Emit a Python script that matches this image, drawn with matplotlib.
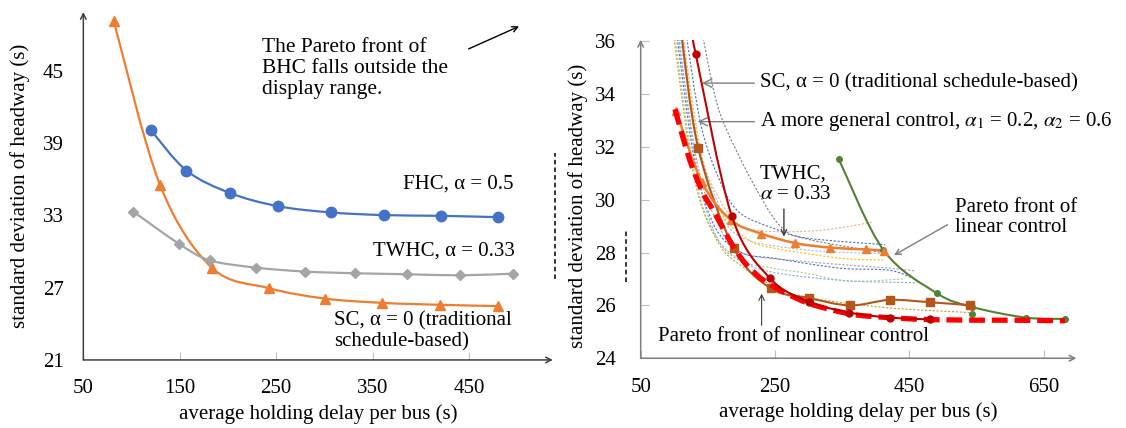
import numpy as np
import matplotlib
matplotlib.use("Agg")
import matplotlib.pyplot as plt
from matplotlib.path import Path
from matplotlib.patches import PathPatch

plt.rcParams["font.family"] = ["Liberation Serif", "DejaVu Serif"]
plt.rcParams["mathtext.fontset"] = "stix"

# ---- left panel data ----
fhc_x = [120, 157, 202, 252, 307, 362, 421, 480]
fhc_y = [40.09, 36.73, 34.87, 33.77, 33.25, 33.03, 32.97, 32.86]
twhc_x = [102, 149, 181, 229, 280, 332, 386, 441, 496]
twhc_y = [33.31, 30.66, 29.28, 28.67, 28.34, 28.20, 28.12, 28.03, 28.17]
sc_x = [81.5, 129.4, 183.2, 242.6, 300.5, 360.2, 420, 480.5]
sc_y = [49.17, 35.57, 28.67, 26.96, 26.10, 25.74, 25.58, 25.47]

# ---- right panel data ----
nl_x = [101, 123, 143, 158, 188, 208, 232, 257, 282, 307, 357, 396, 484, 602, 682]
nl_y = [33.43, 31.51, 30.25, 29.60, 28.23, 27.53, 26.97, 26.59, 26.27, 26.02, 25.70, 25.58, 25.46, 25.44, 25.42]
rsc_x = [126, 131.9, 185.5, 242.5, 301, 360.6, 421, 481]
rsc_y = [36.40, 35.53, 29.40, 27.03, 26.14, 25.73, 25.54, 25.47]
gen_x = [110, 135.8, 188.5, 243.5, 301, 362, 421, 481, 541]
gen_y = [36.40, 31.95, 28.18, 26.65, 26.28, 26.00, 26.21, 26.12, 26.01]
tw_x = [103, 140.8, 184, 229.5, 280.5, 332.5, 386, 412]
tw_y = [33.35, 30.69, 29.24, 28.72, 28.36, 28.19, 28.12, 28.08]
lin_x = [345.2, 411.5, 490.6, 543.8, 623.2, 682]
lin_y = [31.53, 28.10, 26.47, 25.94, 25.54, 25.49]
extra_x = [544]
extra_y = [25.67]

# thin dotted linear-control variants: (colour, x, y)
dotted = [
    ("#7F7F7F", [141, 160, 178, 218, 258, 300, 416], [36.4, 34.0, 32.65, 30.6, 29.0, 28.5, 27.98]),
    ("#4472C4", [117, 140, 170, 198, 248, 297, 414], [36.4, 32.8, 30.6, 29.5, 28.92, 28.55, 28.30]),
    ("#F4B183", [112, 140, 170, 200, 248, 320, 395], [36.4, 31.8, 29.9, 29.0, 28.8, 28.85, 29.15]),
    ("#9DC3E6", [107, 135, 165, 198, 297, 420], [36.4, 32.2, 29.9, 28.6, 28.1, 27.95]),
    ("#FFC000", [110, 140, 170, 210, 248, 347, 411], [36.4, 31.5, 29.5, 28.5, 28.17, 27.79, 27.72]),
    ("#A5A5A5", [105, 135, 165, 200, 297, 421, 460], [36.4, 31.3, 29.1, 28.0, 27.66, 27.41, 27.30]),
    ("#4472C4", [103, 130, 160, 200, 248, 347, 421, 462], [36.4, 31.5, 29.0, 28.0, 27.79, 27.41, 27.33, 26.95]),
    ("#A9D18E", [100, 130, 160, 200, 248, 297, 360, 440], [36.4, 31.0, 28.7, 27.7, 27.41, 27.22, 26.92, 27.00]),
    ("#8FAADC", [105, 135, 165, 205, 260, 360, 462], [36.4, 31.0, 28.5, 27.6, 27.2, 26.93, 26.86]),
    ("#C9A227", [98, 130, 165, 200, 250, 300, 414, 540], [36.4, 30.8, 28.4, 27.5, 26.7, 26.3, 25.92, 25.73]),
]


def smooth_path(x, y):
    # Catmull-Rom style smoothing, like Excel's smoothed lines
    x = np.asarray(x, float)
    y = np.asarray(y, float)
    n = len(x)
    verts = [(x[0], y[0])]
    codes = [Path.MOVETO]
    for i in range(n - 1):
        i0 = max(i - 1, 0)
        i3 = min(i + 2, n - 1)
        c1 = (x[i] + (x[i + 1] - x[i0]) / 6, y[i] + (y[i + 1] - y[i0]) / 6)
        c2 = (x[i + 1] - (x[i3] - x[i]) / 6, y[i + 1] - (y[i3] - y[i]) / 6)
        verts += [c1, c2, (x[i + 1], y[i + 1])]
        codes += [Path.CURVE4] * 3
    return Path(verts, codes)


def smooth_line(ax, x, y, color, lw, ls="-", marker=None, ms=5, zorder=2):
    ax.add_patch(PathPatch(smooth_path(x, y), fill=False, edgecolor=color, lw=lw,
                           linestyle=ls, capstyle="butt", zorder=zorder))
    if marker:
        ax.plot(x, y, linestyle="none", marker=marker, ms=ms, color=color, zorder=zorder + 0.1)


def arrow_axes(ax, color):
    for s in ax.spines.values():
        s.set_visible(False)
    ax.annotate("", xy=(1, 0), xytext=(0, 0), xycoords="axes fraction",
                arrowprops=dict(arrowstyle="->", color=color, lw=1.1, shrinkA=0, shrinkB=0))
    ax.annotate("", xy=(0, 1), xytext=(0, 0), xycoords="axes fraction",
                arrowprops=dict(arrowstyle="->", color=color, lw=1.1, shrinkA=0, shrinkB=0))


fig = plt.figure(figsize=(11.26, 4.28), dpi=100)
ax1 = fig.add_axes([0.074, 0.159, 0.417, 0.813])
ax2 = fig.add_axes([0.569, 0.163, 0.387, 0.744])

FS = 15

# --- left panel ---
smooth_line(ax1, sc_x, sc_y, "#ED7D31", 1.6, marker="^", ms=7.5)
smooth_line(ax1, twhc_x, twhc_y, "#A5A5A5", 1.6, marker="D", ms=5)
smooth_line(ax1, fhc_x, fhc_y, "#4472C4", 1.6, marker="o", ms=7.5)
ax1.set_xlim(50, 537)
ax1.set_ylim(21, 49.9)
ax1.set_xticks([50, 150, 250, 350, 450])
ax1.set_yticks([21, 27, 33, 39, 45])
ax1.tick_params(axis="x", direction="in", length=6, color="#BFBFBF", labelsize=FS, pad=14)
ax1.tick_params(axis="y", length=0, labelsize=FS, pad=14)
arrow_axes(ax1, "#404040")
ax1.set_xlabel("average holding delay per bus (s)", fontsize=FS, labelpad=4)
ax1.set_ylabel("standard deviation of headway (s)", fontsize=FS)
ax1.yaxis.set_label_coords(-0.113, 0.5)

ax1.text(235.6, 47.75, "The Pareto front of\nBHC falls outside the\ndisplay range.",
         fontsize=15.5, va="top", ha="left", linespacing=1.15)
ax1.annotate("", xy=(504.6, 48.8), xytext=(447, 46.74),
             arrowprops=dict(arrowstyle="->", color="black", lw=1))
ax1.text(496, 35.6, "FHC, α = 0.5", fontsize=FS, ha="right", va="center")
ax1.text(498, 30.05, "TWHC, α = 0.33", fontsize=FS, ha="right", va="center")
ax1.text(309.8, 23.35, "SC, α = 0 (traditional\nschedule-based)", fontsize=FS,
         ha="left", va="center", linespacing=1.1)
ax1.plot([539.5, 539.5], [27.75, 38.2], color="black", lw=1.1, ls=(0, (3, 2)), clip_on=False)

# --- right panel ---
for col, dx, dy in dotted:
    smooth_line(ax2, dx, dy, col, 0.8, ls=(0, (2, 1.5)), zorder=1.5)
smooth_line(ax2, lin_x, lin_y, "#548235", 1.5, marker="o", ms=4)
ax2.plot(extra_x, extra_y, linestyle="none", marker="o", ms=4, color="#548235")
smooth_line(ax2, gen_x, gen_y, "#B4561A", 1.5, marker="s", ms=5.5)
smooth_line(ax2, tw_x, tw_y, "#ED7D31", 1.8, marker="^", ms=5.5)
smooth_line(ax2, nl_x, nl_y, "#FF0000", 3.8, ls=(0, (3, 1.3)), zorder=3)
smooth_line(ax2, rsc_x, rsc_y, "#C00000", 1.5, marker="o", ms=5, zorder=3.2)
ax2.set_xlim(50, 699)
ax2.set_ylim(24, 36.06)
ax2.set_xticks([50, 250, 450, 650])
ax2.set_yticks([24, 26, 28, 30, 32, 34, 36])
ax2.tick_params(axis="x", direction="in", length=6, color="#BFBFBF", labelsize=FS, pad=14)
ax2.tick_params(axis="y", direction="in", length=6, color="#BFBFBF", labelsize=FS, pad=18)
arrow_axes(ax2, "#7F7F7F")
ax2.set_xlabel("average holding delay per bus (s)", fontsize=FS, labelpad=4)
ax2.set_ylabel("standard deviation of headway (s)", fontsize=FS)
ax2.yaxis.set_label_coords(-0.121, 0.48)

gray_arrow = dict(arrowstyle="->", color="#7F7F7F", lw=1)
ax2.annotate("SC, α = 0 (traditional schedule-based)", xy=(137.2, 34.42), xytext=(227.6, 34.42),
             fontsize=FS, va="center", ha="left", arrowprops=gray_arrow)
ax2.annotate(r"A more general control, $\alpha_1$ = 0.2, $\alpha_2$ = 0.6", xy=(130.8, 32.96),
             xytext=(227.6, 32.96), fontsize=FS, va="center", ha="left", arrowprops=gray_arrow)
ax2.text(227.6, 30.6, "TWHC,\n" + r"$\alpha$ = 0.33", fontsize=FS, va="center", ha="left",
         linespacing=1.1)
ax2.annotate("", xy=(263.3, 28.5), xytext=(263.3, 29.75),
             arrowprops=dict(arrowstyle="->", color="#404040", lw=1))
ax2.text(518, 29.33, "Pareto front of\nlinear control", fontsize=FS, va="center", ha="left",
         linespacing=1.1)
ax2.annotate("", xy=(423.7, 27.85), xytext=(510.5, 29.11), arrowprops=gray_arrow)
ax2.text(76, 24.82, "Pareto front of nonlinear control", fontsize=FS, va="center", ha="left")
ax2.annotate("", xy=(230.1, 26.55), xytext=(230.1, 25.14),
             arrowprops=dict(arrowstyle="->", color="#404040", lw=0.8))
ax2.plot([28, 28], [26.9, 28.86], color="black", lw=1.1, ls=(0, (3, 2)), clip_on=False)

fig.savefig("out.png", dpi=100)
